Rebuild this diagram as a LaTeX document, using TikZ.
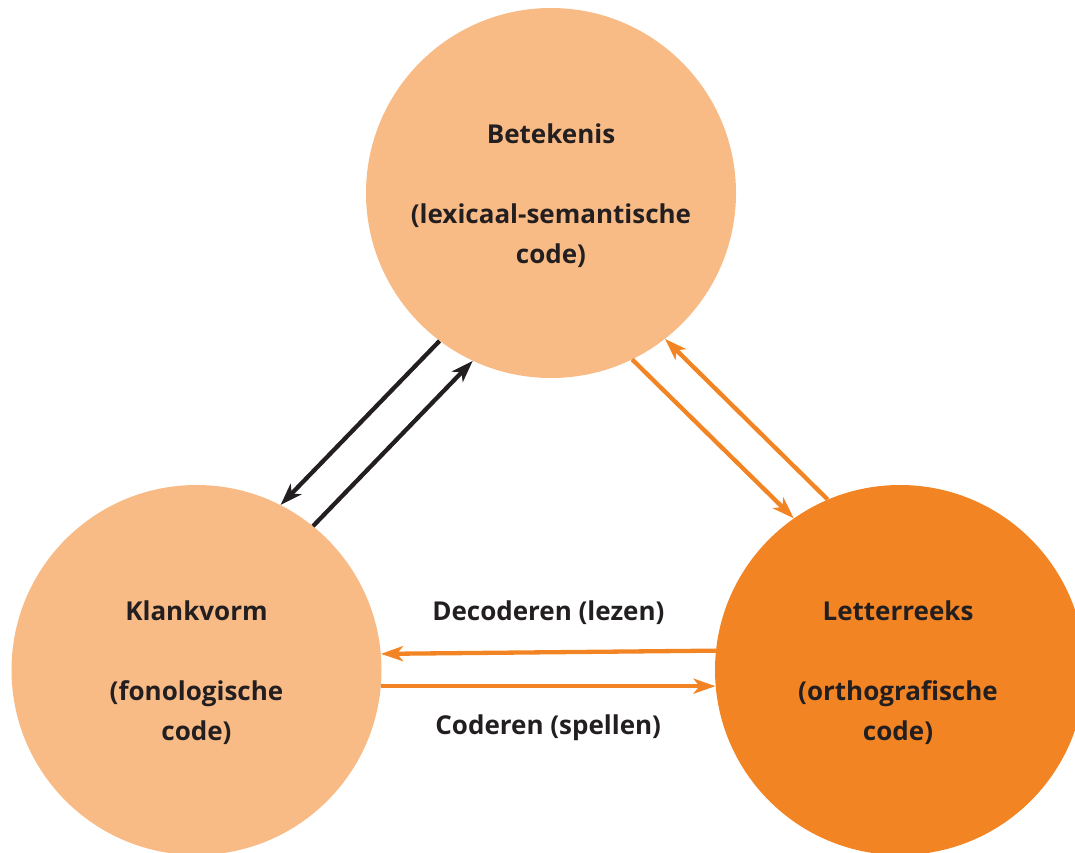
\documentclass[tikz,border=0pt]{standalone}
\usepackage{fontspec}
\setmainfont{Open Sans}
\usetikzlibrary{arrows.meta}
\definecolor{peach}{HTML}{F9BB86}
\definecolor{tangerine}{HTML}{F38423}
\definecolor{ink}{HTML}{231F20}
\tikzset{
  bubble/.style={circle, minimum size=370pt, inner sep=0pt},
  bubbletext/.style={align=center, inner sep=0pt, text=ink, yshift=-2.5pt,
    font=\fontsize{26}{40}\selectfont\bfseries},
  link/.style={line width=4.3pt, -{Stealth[length=22pt,width=15pt,inset=6pt]}},
  caption/.style={text=ink, font=\fontsize{26}{30}\selectfont\bfseries}
}
\begin{document}
\begin{tikzpicture}[x=1pt,y=-1pt]
  \useasboundingbox (0,0) rectangle (1075,852);

  % the three codes
  \node[bubble, fill=peach] (bet) at (551,193) {};
  \node[bubble, fill=peach] (klank) at (196.5,670) {};
  \node[bubble, fill=tangerine] (letter) at (900,670) {};

  \node[bubbletext] (bettext) at (bet.center)
    {Betekenis\\[40pt](lexicaal-semantische\\code)};
  \node[bubbletext] (klanktext) at (klank.center)
    {Klankvorm\\[40pt](fonologische\\code)};
  \node[bubbletext] (lettertext) at ([xshift=-2pt]letter.center)
    {Letterreeks\\[40pt](orthografische\\code)};

  % meaning <-> sound
  \draw[link, ink] (bet.233.3) -- (klank.63.7);
  \draw[link, ink] (klank.51.9) -- (bet.245.2);

  % meaning <-> letters
  \draw[link, tangerine] (bet.296.1) -- (letter.125.2);
  \draw[link, tangerine] (letter.113) -- (bet.308.3);

  % letters <-> sound
  \draw[link, tangerine] (letter.174.4) -- (klank.5.6)
    node[caption, midway, yshift=40pt] (dec) {Decoderen (lezen)};
  \draw[link, tangerine] (klank.-5.6) -- (letter.185.6)
    node[caption, midway, yshift=-42pt] (cod) {Coderen (spellen)};
\end{tikzpicture}
\end{document}
